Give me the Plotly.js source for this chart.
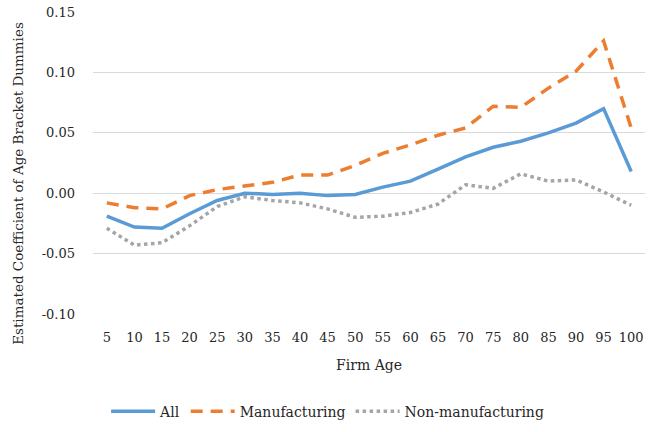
<!DOCTYPE html>
<html>
<head>
<meta charset="utf-8">
<script src="https://cdn.plot.ly/plotly-3.0.1.min.js"></script>
<style>
  body { margin: 0; background: #ffffff; }
  #chart { width: 656px; height: 432px; }
</style>
</head>
<body>
<div id="chart"></div>
<script>
// firm age brackets
var ages = ["5", "10", "15", "20", "25", "30", "35", "40", "45", "50",
            "55", "60", "65", "70", "75", "80", "85", "90", "95", "100"];

// estimated coefficients
var allFirms = [-0.019, -0.028, -0.029, -0.017, -0.006, 0.000, -0.001, 0.000, -0.002, -0.001,
                0.005, 0.010, 0.020, 0.030, 0.038, 0.043, 0.050, 0.058, 0.070, 0.018];
var manufacturing = [-0.008, -0.012, -0.013, -0.002, 0.003, 0.006, 0.009, 0.015, 0.015, 0.023,
                     0.033, 0.040, 0.048, 0.054, 0.072, 0.071, 0.087, 0.101, 0.126, 0.054];
var nonManufacturing = [-0.029, -0.043, -0.041, -0.027, -0.011, -0.003, -0.006, -0.008, -0.013, -0.020,
                        -0.019, -0.016, -0.009, 0.007, 0.004, 0.016, 0.010, 0.011, 0.001, -0.010];

var yTickVals = [-0.10, -0.05, 0.00, 0.05, 0.10, 0.15];
var yTickText = ["-0.10", "-0.05", "0.00", "0.05", "0.10", "0.15"];

var data = [
  {
    x: ages, y: allFirms, name: "All",
    type: "scatter", mode: "lines",
    line: { color: "#5b9bd5", width: 3.5 }
  },
  {
    x: ages, y: manufacturing, name: "Manufacturing",
    type: "scatter", mode: "lines",
    line: { color: "#ed7d31", width: 3.5, dash: "12px,8px" }
  },
  {
    x: ages, y: nonManufacturing, name: "Non-manufacturing",
    type: "scatter", mode: "lines",
    line: { color: "#a5a5a5", width: 3.5, dash: "dot" }
  }
];

var layout = {
  width: 656,
  height: 432,
  margin: { t: 12, r: 11, l: 93, b: 118, autoexpand: false },
  paper_bgcolor: "#ffffff",
  plot_bgcolor: "#ffffff",
  font: { family: "DejaVu Serif, Liberation Serif, serif", size: 13, color: "#262626" },
  showlegend: true,
  legend: {
    orientation: "h",
    x: 0.425, xanchor: "center",
    y: -0.27, yanchor: "top",
    font: { size: 14 },
    tracegroupgap: 0,
    itemwidth: 44
  },
  xaxis: {
    type: "category",
    range: [-0.5, 19.5],
    showgrid: false,
    zeroline: false,
    showline: false,
    ticks: "",
    ticklabelstandoff: 14,
    tickfont: { size: 13 },
    automargin: false,
    title: { text: "Firm Age", font: { size: 14 }, standoff: 16 }
  },
  yaxis: {
    range: [-0.10, 0.15],
    tickvals: yTickVals,
    ticktext: yTickText,
    showgrid: true,
    gridcolor: "#d9d9d9",
    gridwidth: 1,
    zeroline: false,
    showline: false,
    ticks: "",
    ticklabelstandoff: 17,
    tickfont: { size: 13 },
    automargin: false
  },
  // y title sits a little below the plot centre, as in the original
  annotations: [
    {
      text: "Estimated Coefficient of Age Bracket Dummies",
      xref: "paper", yref: "paper",
      x: -0.136, y: 0.434,
      xanchor: "center", yanchor: "middle",
      textangle: -90,
      showarrow: false,
      font: { size: 13.5 }
    }
  ]
};

Plotly.newPlot("chart", data, layout, { displayModeBar: false });
</script>
</body>
</html>
